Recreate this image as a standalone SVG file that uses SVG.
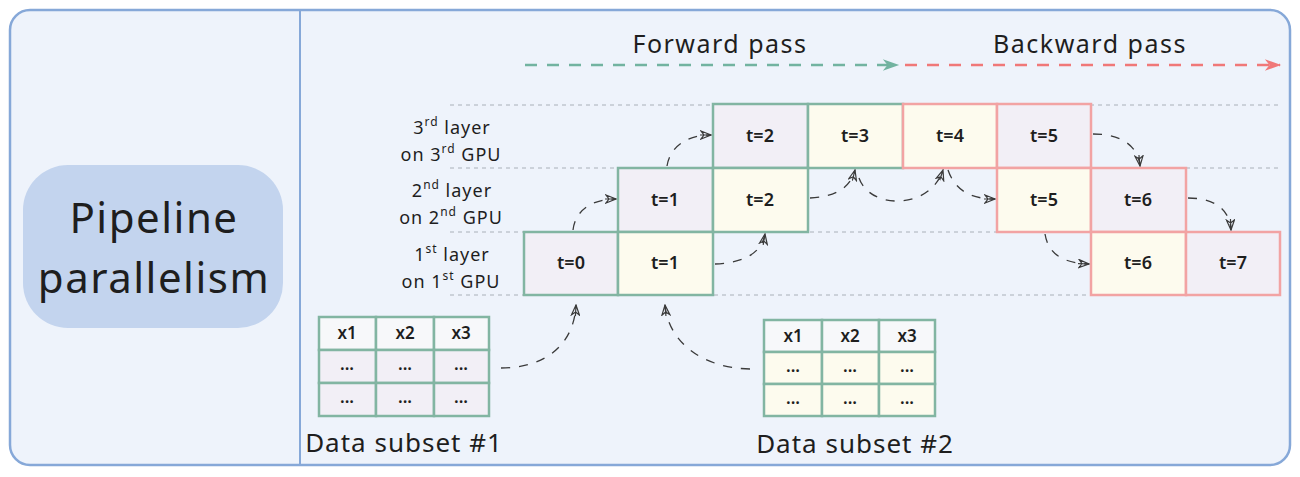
<svg xmlns="http://www.w3.org/2000/svg" width="1300" height="477" viewBox="0 0 1300 477">
<defs>
<style>
text{font-family:"Noto Sans","Open Sans",sans-serif;fill:#1e1e1e}
.lbl{font-size:18px;letter-spacing:1px;text-anchor:middle}
.sup{font-size:12px}
.cell{font-size:18px;font-weight:600;text-anchor:middle}
.tb{font-size:17px;font-weight:600;text-anchor:middle}
.big{font-size:25px;letter-spacing:1.5px;text-anchor:middle}
.ds{font-size:26px;letter-spacing:1px;text-anchor:middle}
.gc{stroke:#82b5a2;stroke-width:2.5}
.rc{stroke:#f2a3a3;stroke-width:2.5}
.lav{fill:#f2eff6}
.crm{fill:#fdfbee}
.hdr{fill:#f7f8fa}
.grid{stroke:#a9b0b8;stroke-width:1;stroke-dasharray:4 4}
.con{fill:none;stroke:#3a3a3a;stroke-width:1.3;stroke-dasharray:9 9;marker-end:url(#ah)}
</style>
<marker id="ah" viewBox="0 0 12 10" refX="11" refY="5" markerWidth="12" markerHeight="10" markerUnits="userSpaceOnUse" orient="auto">
<path d="M1,1 L11,5 L1,9 L4,5 Z M0,5 L11,5" fill="none" stroke="#3a3a3a" stroke-width="1.2"/>
</marker>
<marker id="ag" viewBox="0 0 14 12" refX="13" refY="6" markerWidth="18" markerHeight="14" markerUnits="userSpaceOnUse" orient="auto">
<path d="M0,1 L14,6 L0,11 L4,6 Z" fill="#72b3a0"/>
</marker>
<marker id="ar" viewBox="0 0 14 12" refX="13" refY="6" markerWidth="18" markerHeight="14" markerUnits="userSpaceOnUse" orient="auto">
<path d="M0,1 L14,6 L0,11 L4,6 Z" fill="#f07878"/>
</marker>
</defs>

<g id="frame">
<rect x="10" y="10" width="1280" height="455" rx="20" fill="#eef3fb" stroke="#86a8d8" stroke-width="2.5"/>
<line x1="300" y1="11" x2="300" y2="464" stroke="#86a8d8" stroke-width="2"/>
</g>

<g id="title">
<rect x="23" y="165" width="260" height="163" rx="45" fill="#c3d4ee"/>
<text x="154" y="233" font-size="42" letter-spacing="1.5" text-anchor="middle">Pipeline</text>
<text x="154" y="293" font-size="42" letter-spacing="1.5" text-anchor="middle">parallelism</text>
</g>

<g id="passes">
<text class="big" x="720" y="53">Forward pass</text>
<text class="big" x="1090" y="53">Backward pass</text>
<line x1="525" y1="65" x2="898" y2="65" stroke="#72b3a0" stroke-width="2.5" stroke-dasharray="12 10" marker-end="url(#ag)"/>
<line x1="905" y1="65" x2="1280" y2="65" stroke="#f07878" stroke-width="2.5" stroke-dasharray="12 10" marker-end="url(#ar)"/>
</g>

<g id="gridlines">
<line class="grid" x1="450" y1="105" x2="1282" y2="105"/>
<line class="grid" x1="450" y1="168" x2="1282" y2="168"/>
<line class="grid" x1="450" y1="232" x2="1282" y2="232" stroke="#9fb6d6"/>
<line class="grid" x1="450" y1="295" x2="1282" y2="295"/>
</g>

<g id="layer-labels">
<text class="lbl" x="452" y="134">3<tspan class="sup" dy="-8">rd</tspan><tspan dy="8"> layer</tspan></text>
<text class="lbl" x="451" y="161">on 3<tspan class="sup" dy="-8">rd</tspan><tspan dy="8"> GPU</tspan></text>
<text class="lbl" x="452" y="197">2<tspan class="sup" dy="-8">nd</tspan><tspan dy="8"> layer</tspan></text>
<text class="lbl" x="451" y="224">on 2<tspan class="sup" dy="-8">nd</tspan><tspan dy="8"> GPU</tspan></text>
<text class="lbl" x="452" y="261">1<tspan class="sup" dy="-8">st</tspan><tspan dy="8"> layer</tspan></text>
<text class="lbl" x="451" y="288">on 1<tspan class="sup" dy="-8">st</tspan><tspan dy="8"> GPU</tspan></text>
</g>

<g id="l3-t2"><rect class="lav gc" x="713" y="104" width="95" height="64"/><text class="cell" x="760" y="142">t=2</text></g>
<g id="l3-t3"><rect class="crm gc" x="808" y="104" width="95" height="64"/><text class="cell" x="855" y="142">t=3</text></g>
<g id="l3-t4"><rect class="crm rc" x="903" y="104" width="94" height="64"/><text class="cell" x="950" y="142">t=4</text></g>
<g id="l3-t5"><rect class="lav rc" x="997" y="104" width="94" height="64"/><text class="cell" x="1044" y="142">t=5</text></g>

<g id="l2-t1"><rect class="lav gc" x="618" y="168" width="95" height="64"/><text class="cell" x="665" y="206">t=1</text></g>
<g id="l2-t2"><rect class="crm gc" x="713" y="168" width="95" height="64"/><text class="cell" x="760" y="206">t=2</text></g>
<g id="l2-t5"><rect class="crm rc" x="997" y="168" width="94" height="64"/><text class="cell" x="1044" y="206">t=5</text></g>
<g id="l2-t6"><rect class="lav rc" x="1091" y="168" width="95" height="64"/><text class="cell" x="1138" y="206">t=6</text></g>

<g id="l1-t0"><rect class="lav gc" x="524" y="232" width="94" height="63"/><text class="cell" x="571" y="269">t=0</text></g>
<g id="l1-t1"><rect class="crm gc" x="618" y="232" width="95" height="63"/><text class="cell" x="665" y="269">t=1</text></g>
<g id="l1-t6"><rect class="crm rc" x="1091" y="232" width="95" height="63"/><text class="cell" x="1138" y="269">t=6</text></g>
<g id="l1-t7"><rect class="lav rc" x="1186" y="232" width="94" height="63"/><text class="cell" x="1233" y="269">t=7</text></g>

<g id="data1">
<rect class="hdr gc" x="319" y="317" width="57" height="33"/><rect class="hdr gc" x="376" y="317" width="58" height="33"/><rect class="hdr gc" x="434" y="317" width="55" height="33"/>
<rect class="lav gc" x="319" y="350" width="57" height="33"/><rect class="lav gc" x="376" y="350" width="58" height="33"/><rect class="lav gc" x="434" y="350" width="55" height="33"/>
<rect class="lav gc" x="319" y="383" width="57" height="33"/><rect class="lav gc" x="376" y="383" width="58" height="33"/><rect class="lav gc" x="434" y="383" width="55" height="33"/>
<text class="tb" x="347" y="339">x1</text><text class="tb" x="405" y="339">x2</text><text class="tb" x="461" y="339">x3</text>
<text class="tb" x="347" y="370">...</text><text class="tb" x="405" y="370">...</text><text class="tb" x="461" y="370">...</text>
<text class="tb" x="347" y="403">...</text><text class="tb" x="405" y="403">...</text><text class="tb" x="461" y="403">...</text>
<text class="ds" x="404" y="452">Data subset #1</text>
</g>

<g id="data2">
<rect class="hdr gc" x="764" y="320" width="58" height="32"/><rect class="hdr gc" x="822" y="320" width="57" height="32"/><rect class="hdr gc" x="879" y="320" width="56" height="32"/>
<rect class="crm gc" x="764" y="352" width="58" height="32"/><rect class="crm gc" x="822" y="352" width="57" height="32"/><rect class="crm gc" x="879" y="352" width="56" height="32"/>
<rect class="crm gc" x="764" y="384" width="58" height="32"/><rect class="crm gc" x="822" y="384" width="57" height="32"/><rect class="crm gc" x="879" y="384" width="56" height="32"/>
<text class="tb" x="793" y="342">x1</text><text class="tb" x="850" y="342">x2</text><text class="tb" x="907" y="342">x3</text>
<text class="tb" x="793" y="372">...</text><text class="tb" x="850" y="372">...</text><text class="tb" x="907" y="372">...</text>
<text class="tb" x="793" y="404">...</text><text class="tb" x="850" y="404">...</text><text class="tb" x="907" y="404">...</text>
<text class="ds" x="855" y="453">Data subset #2</text>
</g>

<g id="connectors">
<path class="con" d="M501 368 C 545 368, 574 345, 576 305"/>
<path class="con" d="M750 369 C 700 368, 668 340, 665 305"/>
<path class="con" d="M573 230 C 575 212, 590 199, 616 199"/>
<path class="con" d="M667 166 C 670 148, 685 135, 711 135"/>
<path class="con" d="M715 264 C 745 263, 762 252, 765 234"/>
<path class="con" d="M810 198 C 832 197, 850 190, 855 170"/>
<path class="con" d="M859 178 C 870 210, 930 210, 943 170"/>
<path class="con" d="M948 170 C 955 190, 970 199, 995 199"/>
<path class="con" d="M1093 134 C 1120 134, 1138 145, 1140 166"/>
<path class="con" d="M1188 198 C 1215 198, 1230 210, 1231 230"/>
<path class="con" d="M1045 234 C 1048 252, 1060 263, 1089 264"/>
</g>
</svg>
